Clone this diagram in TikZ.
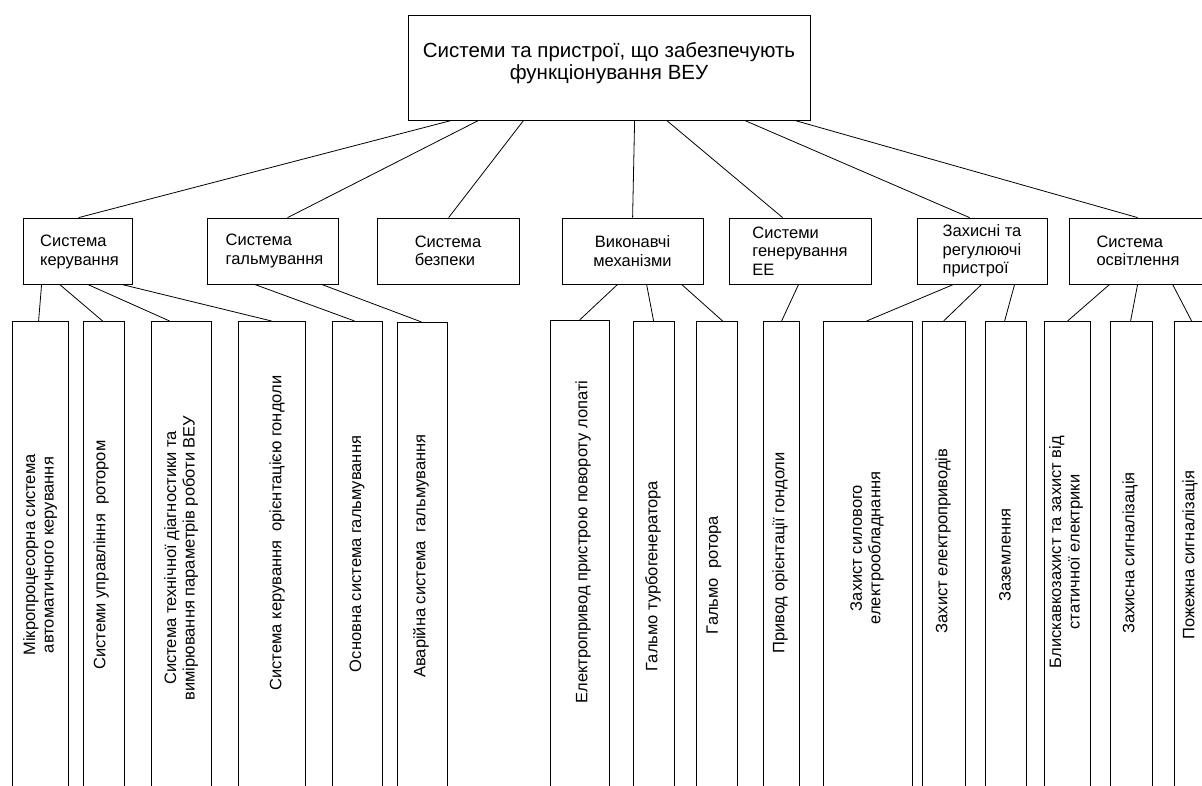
\documentclass[tikz,border=0pt]{standalone}
\usepackage{fontspec}
\setmainfont{Liberation Sans}
\begin{document}
\begin{tikzpicture}[x=1pt,y=-1pt,
  box/.style={draw=black, line width=0.8pt, rectangle, inner sep=0pt, fill=none},
  con/.style={draw=black, line width=0.8pt},
  toptxt/.style={font=\fontsize{20.5}{22}\selectfont, align=center},
  midtxt/.style={font=\fontsize{16.5}{18.5}\selectfont},
  vtxt/.style={font=\fontsize{16.5}{18.5}\selectfont, rotate=90, align=center}]
\useasboundingbox (0,0) rectangle (1202,785);
\clip (0,0) rectangle (1202,785);
\fill[white] (0,0) rectangle (1202,785);
% top
\node[box, minimum width=402pt, minimum height=105pt] (top) at (609,67.5) {};
\node[toptxt] (toptext) at (609,63) {Системи та пристрої, що забезпечують\\функціонування ВЕУ};
% middle level
\node[box, minimum width=109pt, minimum height=66pt] (m1) at (77.5,251) {};
\node[box, minimum width=131pt, minimum height=66pt] (m2) at (272.5,251) {};
\node[box, minimum width=142pt, minimum height=66pt] (m3) at (448,251) {};
\node[box, minimum width=141pt, minimum height=66pt] (m4) at (632.5,251) {};
\node[box, minimum width=142pt, minimum height=66pt] (m5) at (800,251) {};
\node[box, minimum width=130pt, minimum height=66pt] (m6) at (982,251) {};
\node[box, minimum width=138pt, minimum height=66pt] (m7) at (1138,251) {};
\node[midtxt, align=left] (m1t) at ([xshift=2pt,yshift=-1pt]m1.center) {Система\\керування};
\node[midtxt, align=left] (m2t) at ([xshift=2pt]m2.center) {Система\\гальмування};
\node[midtxt, align=left] (m3t) at (m3) {Система\\безпеки};
\node[midtxt, align=center] (m4t) at (m4) {Виконавчі\\механізми};
\node[midtxt, align=left] (m5t) at (m5) {Системи\\генерування\\ЕЕ};
\node[midtxt, align=left] (m6t) at (m6) {Захисні та\\регулюючі\\пристрої};
\node[midtxt, align=left] (m7t) at (m7) {Система\\освітлення};
% bottom level boxes (cut at the lower edge)
\node[box, minimum width=56pt, minimum height=580pt, anchor=north] (b1) at (40,321) {};
\node[box, minimum width=41pt, minimum height=580pt, anchor=north] (b2) at (103.5,321) {};
\node[box, minimum width=60pt, minimum height=580pt, anchor=north] (b3) at (181,321) {};
\node[box, minimum width=67pt, minimum height=580pt, anchor=north] (b4) at (271.5,321) {};
\node[box, minimum width=50pt, minimum height=580pt, anchor=north] (b5) at (357,321) {};
\node[box, minimum width=50pt, minimum height=580pt, anchor=north] (b6) at (422,322) {};
\node[box, minimum width=59pt, minimum height=580pt, anchor=north] (b7) at (579.5,320) {};
\node[box, minimum width=41pt, minimum height=580pt, anchor=north] (b8) at (653.5,321) {};
\node[box, minimum width=41pt, minimum height=580pt, anchor=north] (b9) at (716.5,321) {};
\node[box, minimum width=36pt, minimum height=580pt, anchor=north] (b10) at (781,321) {};
\node[box, minimum width=89pt, minimum height=580pt, anchor=north] (b11) at (867.5,321) {};
\node[box, minimum width=43pt, minimum height=580pt, anchor=north] (b12) at (943.5,321) {};
\node[box, minimum width=41pt, minimum height=580pt, anchor=north] (b13) at (1005.5,321) {};
\node[box, minimum width=46pt, minimum height=580pt, anchor=north] (b14) at (1067,321) {};
\node[box, minimum width=42pt, minimum height=580pt, anchor=north] (b15) at (1131,321) {};
\node[box, minimum width=36pt, minimum height=580pt, anchor=north] (b16) at (1192,321) {};
% vertical texts
\node[vtxt] (t1) at (40,555) {Мікропроцесорна система\\автоматичного керування};
\node[vtxt] (t2) at (101,555) {Системи управління \ ротором};
\node[vtxt] (t3) at (181,558) {Система технічної діагностики та\\вимірювання параметрів роботи ВЕУ};
\node[vtxt] (t4) at (277,533) {Система керування \ орієнтацією гондоли};
\node[vtxt] (t5) at (357,554) {Основна система гальмування};
\node[vtxt] (t6) at (421,556) {Аварійна система \ гальмування};
\node[vtxt] (t7) at (583,542) {Електропривод пристрою повороту лопаті};
\node[vtxt] (t8) at (653,576) {Гальмо турбогенератора};
\node[vtxt] (t9) at (714,575) {Гальмо \ ротора};
\node[vtxt] (t10) at (780,553) {Привод орієнтації гондоли};
\node[vtxt] (t11) at (867,548) {Захист силового\\електрообладнання};
\node[vtxt] (t12) at (943,541) {Захист електроприводів};
\node[vtxt] (t13) at (1005,555) {Заземлення};
\node[vtxt] (t14) at (1066,552) {Блискавкозахист та захист від\\статичної електрики};
\node[vtxt] (t15) at (1130,553) {Захисна сигналізація};
\node[vtxt] (t16) at (1190,555) {Пожежна сигналізація};
% connectors top -> middle
\newcommand\conn[4]{\draw[con] ([xshift=#2pt]#1.south west) -- ([xshift=#4pt]#3.north west);}
\conn{top}{44}{m1}{56}
\conn{top}{71}{m2}{81}
\conn{top}{116}{m3}{72}
\conn{top}{227}{m4}{71}
\conn{top}{259}{m5}{54}
\conn{top}{337}{m6}{53}
\conn{top}{387}{m7}{69}
% connectors middle -> bottom
\conn{m1}{19}{b1}{27}
\conn{m1}{37}{b2}{20}
\conn{m1}{65}{b3}{19}
\conn{m1}{99}{b4}{34}
\conn{m2}{48}{b5}{23}
\conn{m2}{115}{b6}{25}
\conn{m4}{56}{b7}{30}
\conn{m4}{85}{b8}{21}
\conn{m4}{120}{b9}{27}
\conn{m5}{70}{b10}{19}
\conn{m6}{37}{b11}{44}
\conn{m6}{65}{b12}{22}
\conn{m6}{98}{b13}{20}
\conn{m7}{41}{b14}{24}
\conn{m7}{69}{b15}{21}
\conn{m7}{104}{b16}{18}
\end{tikzpicture}
\end{document}
